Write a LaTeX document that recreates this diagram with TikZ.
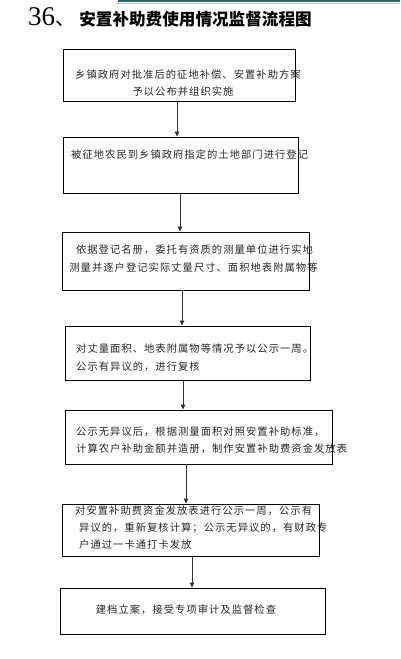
\documentclass[tikz,border=0pt]{standalone}
\usepackage{fontspec}
\setmainfont{Liberation Serif}
\newfontfamily\cjk[LetterSpace=10]{Noto Sans CJK SC}
\newfontfamily\cjkt{Noto Sans CJK SC}
\usetikzlibrary{arrows.meta}
\tikzset{
  stepbox/.style={draw=black, line width=0.9pt, rectangle, inner sep=0pt},
  txt/.style={inner sep=0pt, font=\cjk\fontsize{10.3}{12}\selectfont, text=black!85},
  arr/.style={draw=black!80, line width=0.8pt, -{Triangle[length=5pt,width=4.5pt]}}
}
\begin{document}
\begin{tikzpicture}[x=1pt,y=-1pt]
\useasboundingbox (0,0) rectangle (400,659);
% top decorative line
\draw[draw={rgb,255:red,45;green,100;blue,100}, line width=2pt] (118,1) -- (400,1);
\draw[draw={rgb,255:red,170;green,200;blue,200}, line width=0.8pt] (118,3) -- (400,3);
% title
\node[anchor=base west, inner sep=0pt, font=\fontsize{27}{30}\selectfont] (tnum) at (28,25) {36};
\node[anchor=base west, inner sep=0pt, font=\cjkt\fontsize{20}{22}\selectfont] (tcomma) at (tnum.base east) {、};
\node[anchor=center, inner sep=0pt, font=\cjkt\bfseries\fontsize{16.6}{18}\selectfont] (title) at (195.5,19) {安置补助费使用情况监督流程图};
% boxes
\node[stepbox, minimum width=232pt, minimum height=52pt] (b1) at (179,75) {};
\node[stepbox, minimum width=235pt, minimum height=56pt] (b2) at (180.5,165) {};
\node[stepbox, minimum width=247pt, minimum height=58pt] (b3) at (185.5,261) {};
\node[stepbox, minimum width=245pt, minimum height=54pt] (b4) at (187.5,353) {};
\node[stepbox, minimum width=267pt, minimum height=54pt] (b5) at (198.5,437) {};
\node[stepbox, minimum width=257pt, minimum height=52pt] (b6) at (190.5,530) {};
\node[stepbox, minimum width=265pt, minimum height=46pt] (b7) at (192.5,611) {};
% texts
\node[txt, anchor=center] (t1a) at (188,75) {乡镇政府对批准后的征地补偿、安置补助方案};
\node[txt, anchor=center] (t1b) at (183,92) {予以公布并组织实施};
\node[txt, anchor=west] (t2) at (71,155) {被征地农民到乡镇政府指定的土地部门进行登记};
\node[txt, anchor=center] (t3a) at (194.5,250) {依据登记名册，委托有资质的测量单位进行实地};
\node[txt, anchor=center] (t3b) at (193.5,268) {测量并逐户登记实际丈量尺寸、面积地表附属物等};
\node[txt, anchor=west] (t4a) at (76,349) {对丈量面积、地表附属物等情况予以公示一周。};
\node[txt, anchor=west] (t4b) at (76,367) {公示有异议的，进行复核};
\node[txt, anchor=west] (t5a) at (76,432) {公示无异议后，根据测量面积对照安置补助标准，};
\node[txt, anchor=west] (t5b) at (76,449) {计算农户补助金额并造册，制作安置补助费资金发放表};
\node[txt, anchor=west] (t6a) at (75,511) {对安置补助费资金发放表进行公示一周，公示有};
\node[txt, anchor=west] (t6b) at (79,528) {异议的，重新复核计算；公示无异议的，有财政专};
\node[txt, anchor=west] (t6c) at (79,545) {户通过一卡通打卡发放};
\node[txt, anchor=center] (t7) at (186,610) {建档立案，接受专项审计及监督检查};
% arrow columns
\coordinate (x1) at (177,0);
\coordinate (x2) at (180,0);
\coordinate (x3) at (182,0);
\coordinate (x4) at (183,0);
\coordinate (x5) at (186,0);
\coordinate (x6) at (192,0);
\draw[arr] (b1.south -| x1) -- (b2.north -| x1);
\draw[arr] (b2.south -| x2) -- (b3.north -| x2);
\draw[arr] (b3.south -| x3) -- (b4.north -| x3);
\draw[arr] (b4.south -| x4) -- (b5.north -| x4);
\draw[arr] (b5.south -| x5) -- (b6.north -| x5);
\draw[arr] (b6.south -| x6) -- (b7.north -| x6);
\end{tikzpicture}
\end{document}
